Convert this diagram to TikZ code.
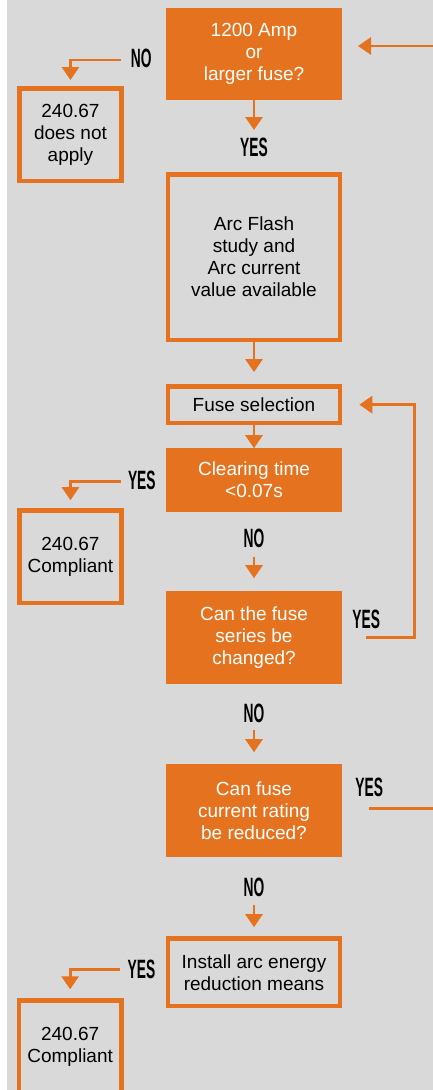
\documentclass[tikz,border=0pt]{standalone}
\usepackage{fontspec}
\setmainfont{Liberation Sans}
\newfontfamily\answerfont{Liberation Sans}[FakeStretch=0.52]
\usetikzlibrary{positioning,arrows.meta}
\definecolor{fuseorange}{RGB}{229,114,30}
\definecolor{panelgray}{RGB}{217,217,217}

\begin{document}
\begin{tikzpicture}[auto, thick,
    box text/.style={font=\fontsize{19}{22}\selectfont, align=center, inner sep=0pt},
    decision/.style={box text, fill=fuseorange, text=white, outer sep=0pt, minimum width=176pt},
    outcome/.style={box text, draw=fuseorange, line width=4.6pt, text=black, minimum width=172pt},
    verdict/.style={box text, draw=fuseorange, line width=4.6pt, text=black, minimum width=102.5pt, minimum height=92.5pt},
    answer/.style={font=\answerfont\fontsize{26.5}{26.5}\bfseries, inner sep=0pt},
    wire/.style={draw=fuseorange, line width=2.8pt},
    flow/.style={wire, -{Triangle[width=17pt,length=13pt]}}]

      \fill[white] (0,0) rectangle (433pt,-1090pt);
      \fill[panelgray] (7pt,0) rectangle (433pt,-1090pt);
      \useasboundingbox (0,0) rectangle (433pt,-1090pt);

      \node[decision, minimum height=92pt] (q1) at (254pt,-54pt) {1200 Amp\\or\\larger fuse?};
      \node[outcome, minimum height=165.5pt] (study) [below=72pt of q1] {Arc Flash\\study and\\Arc current\\value available};
      \node[outcome, minimum height=36.5pt] (sel) [below=42pt of study] {Fuse selection};
      \node[decision, minimum height=64pt] (clr) [below=23pt of sel] {Clearing time\\<0.07s};
      \node[decision, minimum height=93pt] (chg) [below=79pt of clr] {Can the fuse\\series be\\changed?};
      \node[decision, minimum height=93pt] (red) [below=80pt of chg] {Can fuse\\current rating\\be reduced?};
      \node[outcome, minimum height=67.5pt] (inst) [below=79pt of red] {Install arc energy\\reduction means};

      \node[verdict] (na) [below left=-14pt and 42pt of q1.south west] {240.67\\does not\\apply};
      \node[verdict] (ok1) [below left=-4pt and 42pt of clr.south west] {240.67\\Compliant};
      \node[verdict] (ok2) [below left=-10pt and 42pt of inst.south west] {240.67\\Compliant};

      \node[answer] (no1) [left=14pt of q1, yshift=-4pt] {NO};
      \node[answer] (yes1) [below=38pt of q1] {YES};
      \node[answer] (yes2) [left=10pt of clr] {YES};
      \node[answer] (no2) [below=16pt of clr] {NO};
      \node[answer] (yes3) [right=10pt of chg, yshift=18pt] {YES};
      \node[answer] (no3) [below=19pt of chg] {NO};
      \node[answer] (yes4) [right=13pt of red, yshift=23pt] {YES};
      \node[answer] (no4) [below=20pt of red] {NO};
      \node[answer] (yes5) [left=10pt of inst, yshift=3pt] {YES};

      \coordinate (loopin) at ([xshift=91pt,yshift=8pt]q1.east);
      \coordinate (loopout) at ([xshift=65pt,yshift=-11pt]yes4.south);

      \draw[flow] (loopin) -- ([xshift=16pt,yshift=8pt]q1.east);
      \draw[flow] (q1) -- ([yshift=8pt]yes1.north);
      \draw[flow] ([xshift=-10pt,yshift=-2pt]no1.west) -| ([yshift=6pt]na.north);
      \draw[flow] (study) -- ([yshift=12pt]sel.north);
      \draw[flow] (sel) -- (clr);
      \draw[flow] ([xshift=-7pt,yshift=-1pt]yes2.west) -| ([yshift=8pt]ok1.north);
      \draw[flow] ([yshift=-9pt]no2.south) -- ([yshift=13pt]chg.north);
      \draw[flow] ([yshift=-8pt]yes3.south) -| ([xshift=72pt]sel.east) -- ([xshift=17pt]sel.east);
      \draw[flow] ([yshift=-7pt]no3.south) -- ([yshift=12pt]red.north);
      \draw[wire] ([yshift=-11pt]yes4.south) -- (loopout);
      \draw[flow] ([yshift=-8pt]no4.south) -- ([yshift=9pt]inst.north);
      \draw[flow] ([xshift=-7pt]yes5.west) -| ([yshift=9pt]ok2.north);

\end{tikzpicture}
\end{document}
